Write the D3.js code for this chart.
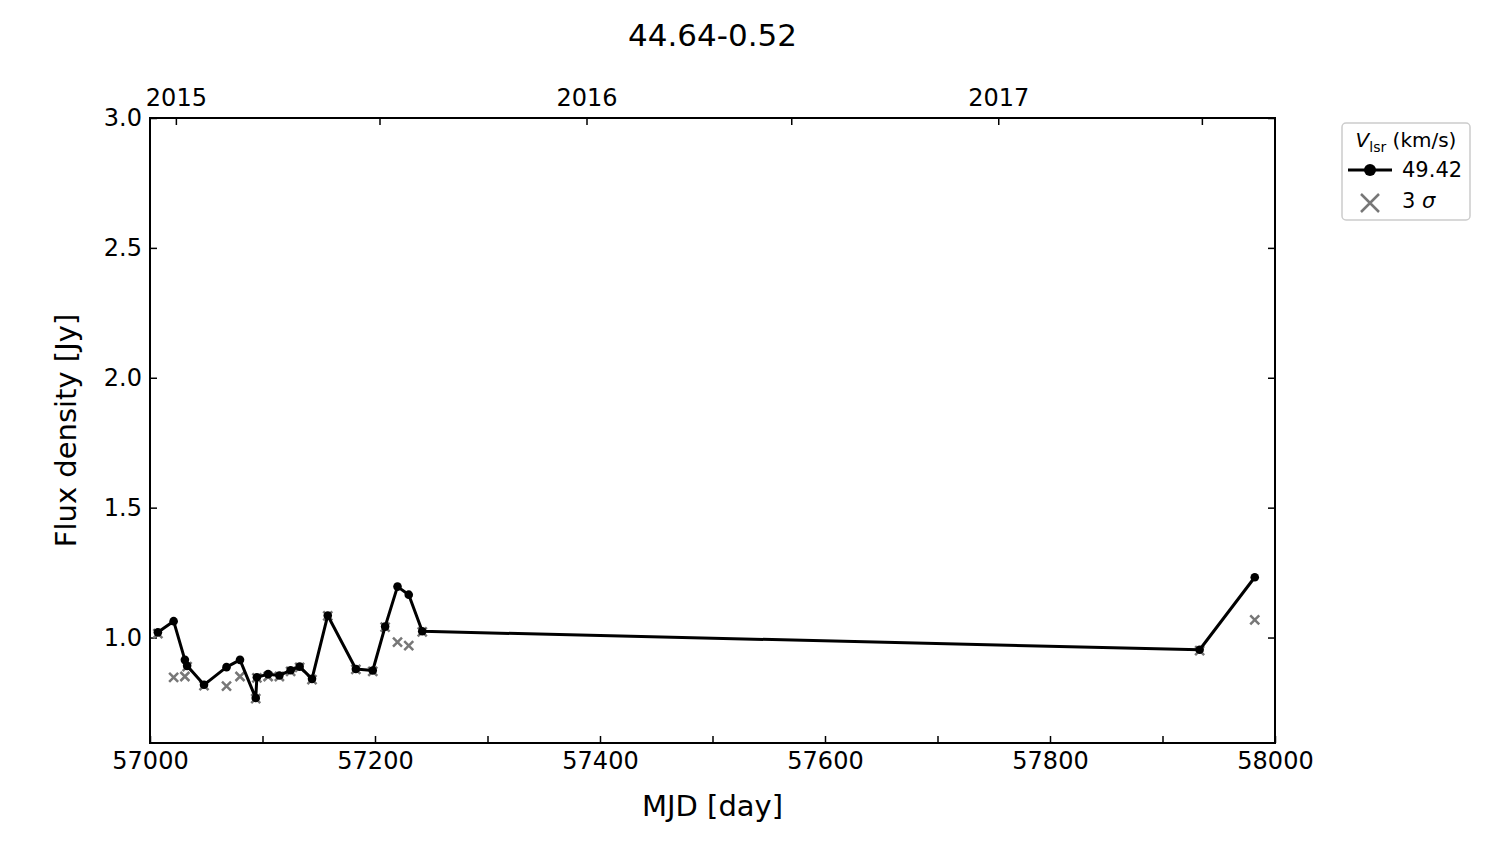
<!DOCTYPE html>
<html><head><meta charset="utf-8">
<script src="https://cdn.jsdelivr.net/npm/d3@7"></script>
<style>body{margin:0;background:#fff;} svg{font-family:"DejaVu Sans",sans-serif;}</style>
</head><body><svg id="c" width="1500" height="844"></svg>
<script>
const title = "44.64-0.52";
const mjd = [57007,57021,57031,57033,57048,57068,57080,57094,57095,57105,57115,57125,57133,57144,57158,57183,57198,57209,57220,57230,57242,57933,57982];
const flux = [1.020,1.063,0.914,0.891,0.818,0.886,0.914,0.767,0.847,0.859,0.854,0.874,0.888,0.841,1.085,0.879,0.873,1.042,1.196,1.165,1.024,0.953,1.232];
const sigmaMjd = [57007,57021,57031,57033,57048,57068,57080,57094,57095,57105,57115,57125,57133,57144,57158,57183,57198,57209,57220,57230,57242,57933,57982];
const sigma3 = [1.015,0.847,0.850,0.888,0.815,0.813,0.850,0.765,0.845,0.850,0.850,0.870,0.885,0.838,1.083,0.877,0.870,1.040,0.982,0.969,1.022,0.950,1.068];
const xTicks = [57000,57100,57200,57300,57400,57500,57600,57700,57800,57900,58000];
const yTicks = [1.0,1.5,2.0,2.5,3.0];
const yearTicks = [57023,57204,57388,57570,57754,57935];
const yearLabels = ["2015","","2016","","2017",""];
const seriesLabel = "49.42";

const svg = d3.select("#c");
const L=150,R=1275,T=118,B=743;
const x = d3.scaleLinear().domain([57000,58000]).range([L,R]);
const y = d3.scaleLinear().domain([0.594,3.0]).range([B,T]);
const tickLen=7;

const fs=24;
const bx = svg.append("g").attr("transform",`translate(0,${B})`)
  .call(d3.axisBottom(x).tickValues(xTicks).tickSizeInner(-tickLen).tickSizeOuter(0).tickPadding(9)
    .tickFormat(d=> (d%200===0)? d3.format("d")(d):""));
const lx = svg.append("g").attr("transform",`translate(${L},0)`)
  .call(d3.axisLeft(y).tickValues(yTicks).tickSizeInner(-tickLen).tickSizeOuter(0).tickPadding(8).tickFormat(d3.format(".1f")));
const rx = svg.append("g").attr("transform",`translate(${R},0)`)
  .call(d3.axisRight(y).tickValues(yTicks).tickSizeInner(-tickLen).tickSizeOuter(0).tickFormat(""));
const tx = svg.append("g").attr("transform",`translate(0,${T})`)
  .call(d3.axisTop(x).tickValues(yearTicks).tickSizeInner(-tickLen).tickSizeOuter(0).tickPadding(12)
    .tickFormat((d,i)=>yearLabels[i]));
[bx,lx,rx,tx].forEach(g=>{
  g.select(".domain").remove();
  g.selectAll(".tick line").attr("stroke","#000").attr("stroke-width",1.5);
  g.selectAll(".tick text").attr("font-size",fs).attr("fill","#000").attr("font-family","DejaVu Sans");
});
svg.append("rect").attr("x",L).attr("y",T).attr("width",R-L).attr("height",B-T)
  .attr("fill","none").attr("stroke","#000").attr("stroke-width",2);

svg.append("clipPath").attr("id","clip").append("rect").attr("x",L).attr("y",T).attr("width",R-L).attr("height",B-T);
const plot = svg.append("g").attr("clip-path","url(#clip)");

const cs=4.5;
const crossPath = (cx,cy,s)=>`M${cx-s},${cy-s}L${cx+s},${cy+s}M${cx-s},${cy+s}L${cx+s},${cy-s}`;
plot.selectAll("path.cross").data(sigmaMjd.map((m,i)=>[m,sigma3[i]])).enter().append("path")
  .attr("class","cross").attr("d",d=>crossPath(x(d[0]),y(d[1]),cs))
  .attr("stroke","#777").attr("stroke-width",2.5).attr("fill","none");

const pts = mjd.map((m,i)=>[m,flux[i]]);
plot.append("path").datum(pts).attr("d",d3.line().x(d=>x(d[0])).y(d=>y(d[1])))
  .attr("fill","none").attr("stroke","#000").attr("stroke-width",3).attr("stroke-linejoin","round");
plot.selectAll("circle.pt").data(pts).enter().append("circle").attr("class","pt")
  .attr("cx",d=>x(d[0])).attr("cy",d=>y(d[1])).attr("r",4.3).attr("fill","#000");

svg.append("text").attr("x",(L+R)/2).attr("y",46).attr("text-anchor","middle").attr("font-size",31).text(title);
svg.append("text").attr("x",(L+R)/2).attr("y",816).attr("text-anchor","middle").attr("font-size",29).text("MJD [day]");
svg.append("text").attr("transform",`translate(76,${(T+B)/2}) rotate(-90)`).attr("text-anchor","middle").attr("font-size",29).text("Flux density [Jy]");

const lg = svg.append("g");
lg.append("rect").attr("x",1342).attr("y",123).attr("width",128).attr("height",97).attr("rx",4)
  .attr("fill","#fff").attr("stroke","#ccc").attr("stroke-width",1.5);
const lt = lg.append("text").attr("x",1406).attr("y",147).attr("text-anchor","middle").attr("font-size",20);
lt.append("tspan").attr("font-style","italic").text("V");
lt.append("tspan").attr("font-size",14).attr("dy",5).text("lsr");
lt.append("tspan").attr("dy",-5).text(" (km/s)");
lg.append("line").attr("x1",1348).attr("x2",1392).attr("y1",170).attr("y2",170).attr("stroke","#000").attr("stroke-width",3);
lg.append("circle").attr("cx",1370).attr("cy",170).attr("r",6).attr("fill","#000");
lg.append("text").attr("x",1402).attr("y",177).attr("font-size",21).text(seriesLabel);
lg.append("path").attr("d",crossPath(1370,203,9)).attr("stroke","#777").attr("stroke-width",2.5);
const st = lg.append("text").attr("x",1402).attr("y",208).attr("font-size",21);
st.append("tspan").text("3 ");
st.append("tspan").attr("font-style","italic").text("σ");
</script></body></html>
